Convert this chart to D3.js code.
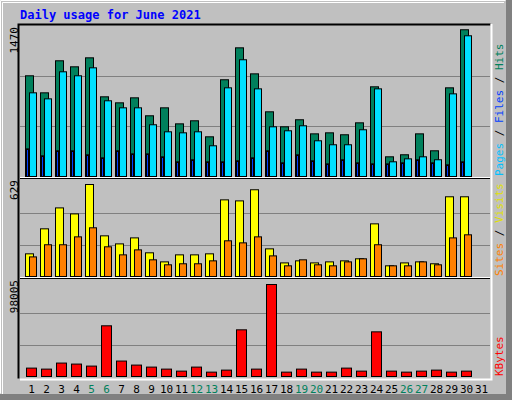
<!DOCTYPE html>
<html><head><meta charset="utf-8">
<script src="https://cdn.jsdelivr.net/npm/d3@7"></script>
<style>body{margin:0;background:#fff}svg{display:block}text{font-family:"DejaVu Sans Mono",monospace}</style>
</head><body><div id="c"></div>
<script>
const days = d3.range(1, 32);
const weekendDays = [5,6,12,13,19,20,26,27];
const hits  = [987,820,1134,1075,1163,781,722,771,595,673,516,546,389,948,1261,1006,634,487,556,418,428,409,526,879,193,213,418,252,869,1438,0];
const files = [820,761,1026,987,1065,742,673,673,507,438,428,438,301,869,1144,859,487,448,497,350,311,311,458,859,144,173,193,164,810,1379,0];
const pages = [271,203,252,252,213,183,252,222,222,193,144,164,144,144,154,183,252,134,213,154,124,164,134,124,124,134,164,134,115,144,0];
const visits= [155,326,469,428,629,278,223,264,162,100,148,148,155,524,517,593,189,93,107,93,100,107,121,360,73,93,100,87,545,545,0];
const sites = [134,217,217,271,333,203,148,182,114,80,87,87,107,244,230,271,141,73,114,80,73,100,121,217,73,73,100,80,264,285,0];
const kbytes= [8942,7869,14308,13234,11088,54012,16454,12162,10016,7869,5723,10016,4650,6796,49720,7869,98005,4650,7869,4650,4650,8942,5723,47574,5723,4650,5723,6796,4650,5723,0];
const maxTop = 1470, maxMid = 629, maxBot = 98005;

const svg = d3.select("#c").append("svg").attr("width",512).attr("height",400);
// frame
svg.append("rect").attr("x",0).attr("y",0).attr("width",512).attr("height",400).attr("fill","#808080");
svg.append("rect").attr("x",0).attr("y",0).attr("width",506).attr("height",394).attr("fill","#c0c0c0");
svg.append("path").attr("d","M0.5,393.5V0.5H505.5").attr("stroke","#fff").attr("fill","none");
svg.append("path").attr("d","M2.5,394V2.5H504").attr("stroke","#fff").attr("fill","none");

svg.append("text").attr("x",20).attr("y",19).attr("fill","#0000ff").attr("font-weight","bold")
  .attr("font-size",12).text("Daily usage for June 2021");

const L=20,R=490;
const x = d3.scaleLinear().domain([1,31]).range([26,476]);
const panels = [
  {top:25,base:176,h:150,max:maxTop,label:"1470"},
  {top:178,base:276,h:92,max:maxMid,label:"629"},
  {top:278,base:376,h:92,max:maxBot,label:"98005"}
];
panels.forEach((p,i)=>{
  const bottom = i<2 ? panels[i+1].top : 378;
  svg.append("rect").attr("x",L).attr("y",p.top).attr("width",R-L).attr("height",bottom-p.top)
    .attr("fill","#c0c0c0").attr("stroke","none");
  p.y = d3.scaleLinear().domain([0,p.max]).range([p.base,p.base-p.h]);
  const gs = i==0 ? [1/3,2/3] : [0.33,0.67];
  gs.forEach(f=>{
    const gy = Math.round(p.base - f*(i==0?150:94))+0.5;
    svg.append("line").attr("x1",L).attr("x2",R).attr("y1",gy).attr("y2",gy).attr("stroke","#808080");
  });
  svg.append("text").attr("transform",`translate(18,${p.top+2}) rotate(-90)`).attr("text-anchor","end")
    .attr("font-size",11).attr("fill","#000").text(p.label);
});
// borders
svg.append("path").attr("d",`M${L-1.5},378.5V24.5H${R+0.5}`).attr("stroke","#000").attr("stroke-width",2).attr("fill","none");
svg.append("path").attr("d",`M${L},379.5H${R+1.5}V24`).attr("stroke","#fff").attr("stroke-width",2).attr("fill","none");
[178,278].forEach(yy=>{
  svg.append("line").attr("x1",L).attr("x2",R).attr("y1",yy-0.5).attr("y2",yy-0.5).attr("stroke","#fff");
  svg.append("line").attr("x1",L).attr("x2",R).attr("y1",yy+0.5).attr("y2",yy+0.5).attr("stroke","#000");
});

function bars(data, p, dx, w, fill){
  svg.append("g").selectAll("rect").data(data.map((v,i)=>({v,d:i+1})).filter(o=>o.v>0)).join("rect")
    .attr("x",o=>x(o.d)+dx+0.5).attr("y",o=>p.y(o.v)+0.5).attr("width",w).attr("height",o=>p.base-p.y(o.v))
    .attr("fill",fill).attr("stroke","#000").attr("stroke-width",1);
}
bars(hits,panels[0],-1,8,"#00805c");
bars(files,panels[0],3,7,"#00e0ff");
bars(pages,panels[0],0,2,"#0040ff");
bars(visits,panels[1],-1,8,"#ffff00");
bars(sites,panels[1],3,7,"#ff8000");
bars(kbytes,panels[2],0,10,"#ff0000");

// day labels
svg.append("g").selectAll("text").data(days).join("text")
  .attr("x",d=>x(d)+5.5).attr("y",393).attr("text-anchor","middle").attr("font-size",11)
  .attr("fill",d=>weekendDays.includes(d)?"#00805c":"#000").text(d=>d);

// right side legends
function legend(cy, parts){
  const t = svg.append("text").attr("transform",`translate(503,${cy}) rotate(-90)`).attr("font-size",11);
  parts.forEach(([s,c])=>t.append("tspan").attr("fill",c).text(s));
}
legend(176,[["Pages","#00c0ff"],[" / ","#000"],["Files","#0040ff"],[" / ","#000"],["Hits","#00805c"]]);
legend(276,[["Sites","#ff8000"],[" / ","#000"],["Visits","#e0e000"]]);
legend(376,[["KBytes","#ff0000"]]);
</script></body></html>
